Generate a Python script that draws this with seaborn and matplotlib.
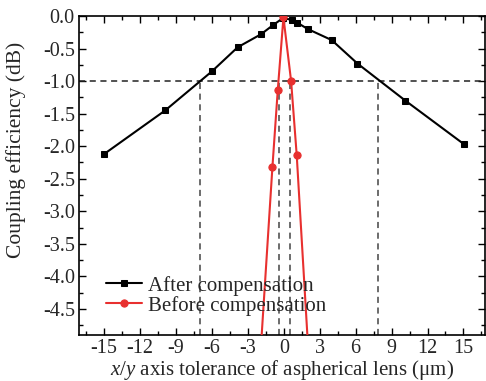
import matplotlib
matplotlib.use("Agg")
import matplotlib.pyplot as plt
import seaborn as sns
import pandas as pd
from matplotlib.ticker import MultipleLocator

# Data
after_x = [-15, -9.9, -6.0, -3.85, -1.9, -0.9, -0.05, 0.65, 1.1, 2.0, 4.0, 6.15, 10.15, 15.05]
after_y = [-2.12, -1.45, -0.85, -0.48, -0.28, -0.14, -0.03, -0.06, -0.10, -0.20, -0.37, -0.73, -1.30, -1.97]
before_x = [-2.0, -0.95, -0.5, -0.03, 0.61, 1.08, 2.0]
before_y = [-5.34, -2.32, -1.13, -0.02, -1.0, -2.14, -5.0]
vlines_x = [-7.0, -0.4, 0.55, 7.9]
hline_y = -1.0
x_ticks = [-15, -12, -9, -6, -3, 0, 3, 6, 9, 12, 15]
y_ticks = [0.0, -0.5, -1.0, -1.5, -2.0, -2.5, -3.0, -3.5, -4.0, -4.5]

sns.set_theme(style="ticks")
plt.rcParams['font.family'] = ['Liberation Serif', 'DejaVu Serif']
plt.rcParams['mathtext.fontset'] = 'custom'
plt.rcParams['mathtext.rm'] = 'Liberation Serif'
plt.rcParams['mathtext.it'] = 'Liberation Serif:italic'

fig = plt.figure(figsize=(4.86, 3.81), dpi=100)
ax = fig.add_axes([79/486, 1-335/381, 406/486, 319/381])

ymin = -4.9
# dashed guide lines
ax.axhline(hline_y, color='#222222', ls=(0, (4, 3)), lw=1.1, zorder=1)
for xv in vlines_x:
    ax.plot([xv, xv], [ymin, hline_y], color='#444444', ls=(0, (4, 3)), lw=1.1, zorder=1)

df_a = pd.DataFrame({'x': after_x, 'y': after_y})
df_b = pd.DataFrame({'x': before_x, 'y': before_y})
sns.lineplot(data=df_a, x='x', y='y', ax=ax, color='black', marker='s', markersize=4.2,
             markeredgecolor='black', lw=1.5, sort=False, label='After compensation', zorder=3)
sns.lineplot(data=df_b, x='x', y='y', ax=ax, color='#e8302f', marker='o', markersize=5.2,
             markeredgecolor='#e8302f', lw=1.5, sort=False, label='Before compensation', zorder=4)

ax.set_xlim(-17.1, 16.8)
ax.set_ylim(ymin, 0)
ax.set_xticks(x_ticks)
ax.set_xticklabels([str(t) for t in x_ticks])
ax.set_yticks(y_ticks)
ax.set_yticklabels([f"{t:.1f}" for t in y_ticks])
ax.xaxis.set_minor_locator(MultipleLocator(1.5))
ax.yaxis.set_minor_locator(MultipleLocator(0.25))
ax.tick_params(which='both', direction='in', top=True, right=True, color='black', width=1.0)
ax.tick_params(which='major', length=5, labelsize=14.5, pad=3)
ax.tick_params(which='minor', length=3)
for s in ax.spines.values():
    s.set_color('black')
    s.set_linewidth(1.2)

ax.set_xlabel("$x$/$y$ axis tolerance of aspherical lens (\u03bcm)", fontsize=15, labelpad=0)
ax.set_ylabel("Coupling efficiency (dB)", fontsize=15.5)
ax.yaxis.set_label_coords(-0.13, 0.58)

leg = ax.legend(loc='lower left', bbox_to_anchor=(0.03, 0.015), frameon=False,
                fontsize=15, handlelength=1.75, handletextpad=0.3, labelspacing=0.0,
                borderaxespad=0.3)

fig.savefig("out.png", dpi=100)
